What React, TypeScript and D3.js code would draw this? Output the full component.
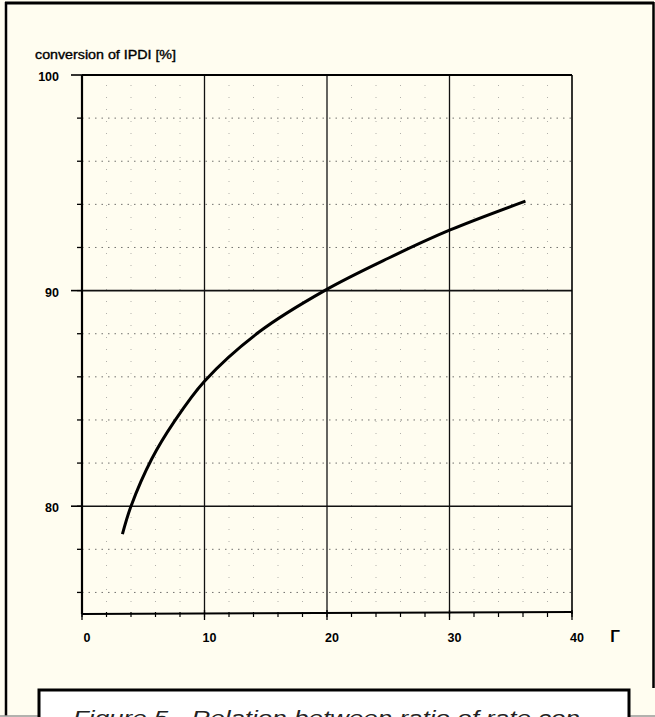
import React from "react";
import * as d3 from "d3";

const W = 655;
const H = 717;

// curve: ratio Γ vs conversion of IPDI [%]
const gammaValues = [3.3, 4, 5.7, 7.5, 10, 14.5, 19.8, 25, 30, 36.2];
const conversionValues = [78.7, 80.0, 82.2, 83.9, 85.8, 88.1, 90.0, 91.5, 92.8, 94.15];

const xTickLabels = [0, 10, 20, 30, 40];
const yTickLabels = [100, 90, 80];
const xMinorTicks = d3.range(0, 41, 2);
const yMinorTicks = d3.range(76, 100, 2);

const yTitle = "conversion of IPDI [%]";
const xTitle = "Γ";
const caption = "Figure 5 - Relation between ratio of rate con";

export default function App() {
  const x = d3.scaleLinear().domain([0, 40]).range([82, 572]);
  const y = d3.scaleLinear().domain([75, 100]).range([614, 75]);
  const pts = gammaValues.map((g, i) => [g, conversionValues[i]] as [number, number]);
  const line = d3
    .line<[number, number]>()
    .x((d) => x(d[0]))
    .y((d) => y(d[1]))
    .curve(d3.curveCatmullRom.alpha(0.5));

  const numFont = "'Liberation Sans', Arial, sans-serif";

  return (
    <svg
      width={W}
      height={H}
      style={{ position: "absolute", left: 0, top: 0, display: "block" }}
    >
      <rect x={0} y={0} width={W} height={H} fill="#fffdf0" />
      {/* outer frame */}
      <line x1={6} y1={2} x2={6} y2={716} stroke="#000" strokeWidth={2.5} />
      <line x1={5} y1={3} x2={654} y2={3} stroke="#000" strokeWidth={3} />
      <line x1={653.5} y1={2} x2={653.5} y2={688} stroke="#000" strokeWidth={2.5} />
      <line x1={0} y1={716} x2={38} y2={716} stroke="#999" strokeWidth={1.5} />
      <line x1={630} y1={716} x2={655} y2={716} stroke="#999" strokeWidth={1.5} />

      {/* minor dotted grid */}
      {yMinorTicks
        .filter((v) => v % 10 !== 0)
        .map((v) => (
          <line
            key={"hy" + v}
            x1={x(0)}
            x2={x(40)}
            y1={y(v)}
            y2={y(v)}
            stroke="#444"
            strokeWidth={1}
            strokeDasharray="1.5 5"
            opacity={0.75}
          />
        ))}
      {xMinorTicks
        .filter((v) => v % 10 !== 0)
        .map((v) => (
          <line
            key={"vx" + v}
            x1={x(v)}
            x2={x(v)}
            y1={y(75)}
            y2={y(100)}
            stroke="#666"
            strokeWidth={1}
            strokeDasharray="1 11"
            opacity={0.5}
          />
        ))}

      {/* major grid */}
      {[10, 20, 30].map((v) => (
        <line key={"mx" + v} x1={x(v)} x2={x(v)} y1={y(100)} y2={y(75)} stroke="#111" strokeWidth={1.3} />
      ))}
      {[90, 80].map((v) => (
        <line key={"my" + v} x1={x(0)} x2={x(40)} y1={y(v)} y2={y(v)} stroke="#111" strokeWidth={1.6} />
      ))}

      {/* frame of plot */}
      <line x1={x(0)} x2={x(40)} y1={y(100)} y2={y(100)} stroke="#000" strokeWidth={2} />
      <line x1={x(40)} x2={x(40)} y1={y(100)} y2={y(75)} stroke="#000" strokeWidth={1.6} />
      <line x1={x(0)} x2={x(0)} y1={y(100)} y2={y(75)} stroke="#000" strokeWidth={2.2} />
      <line x1={x(0)} x2={x(40)} y1={y(75)} y2={y(75) - 2} stroke="#000" strokeWidth={2} />

      {/* y ticks */}
      {yMinorTicks.map((v) => (
        <line key={"ty" + v} x1={x(0) - 5} x2={x(0)} y1={y(v)} y2={y(v)} stroke="#000" strokeWidth={1.3} />
      ))}
      {yTickLabels.map((v) => (
        <line key={"tY" + v} x1={x(0) - 11} x2={x(0)} y1={y(v)} y2={y(v)} stroke="#000" strokeWidth={1.6} />
      ))}
      {/* x ticks */}
      {xMinorTicks.map((v) => (
        <line key={"tx" + v} x1={x(v)} x2={x(v)} y1={y(75) - 2} y2={y(75) + 3} stroke="#000" strokeWidth={1.2} />
      ))}
      {xTickLabels.map((v) => (
        <line key={"tX" + v} x1={x(v)} x2={x(v)} y1={y(75) - 4} y2={y(75) + 6} stroke="#000" strokeWidth={1.3} />
      ))}

      {/* curve */}
      <path d={line(pts) || ""} fill="none" stroke="#000" strokeWidth={3} />

      {/* labels */}
      <text
        x={35}
        y={59}
        fontFamily={numFont}
        fontSize={12}
        textLength={141}
        lengthAdjust="spacingAndGlyphs"
        fill="#000"
        stroke="#000"
        strokeWidth={0.35}
      >
        {yTitle}
      </text>
      {yTickLabels.map((v) => (
        <text
          key={"ly" + v}
          x={59}
          y={y(v) + 6}
          textAnchor="end"
          fontFamily={numFont}
          fontSize={12.5}
          fontWeight="bold"
          fill="#000"
        >
          {v}
        </text>
      ))}
      {xTickLabels.map((v) => (
        <text
          key={"lx" + v}
          x={x(v) + 5}
          y={642}
          textAnchor="middle"
          fontFamily={numFont}
          fontSize={12.5}
          fontWeight="bold"
          fill="#000"
        >
          {v}
        </text>
      ))}
      <text x={615} y={642} textAnchor="middle" fontFamily={numFont} fontSize={16} fontWeight="bold" fill="#000">
        {xTitle}
      </text>

      {/* caption box */}
      <rect x={39} y={690} width={590} height={40} fill="#ffffff" stroke="#000" strokeWidth={3} />
      <text
        x={73}
        y={725}
        fontFamily={numFont}
        fontSize={20}
        fontStyle="italic"
        fill="#222"
        textLength={507}
        lengthAdjust="spacingAndGlyphs"
      >
        {caption}
      </text>
    </svg>
  );
}
